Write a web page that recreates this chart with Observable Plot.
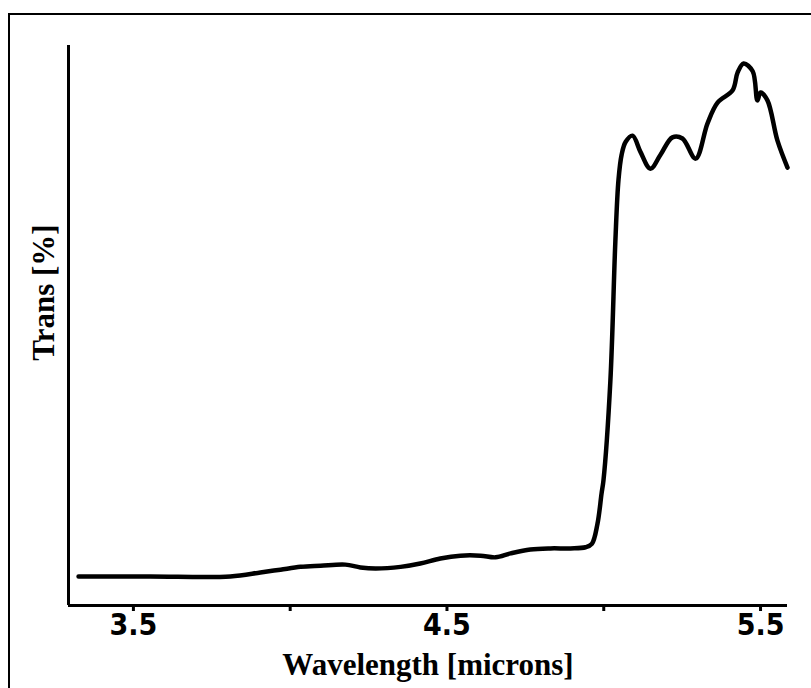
<!DOCTYPE html>
<html>
<head>
<meta charset="utf-8">
<script src="https://cdn.jsdelivr.net/npm/d3@7"></script>
<script src="https://cdn.jsdelivr.net/npm/@observablehq/plot@0.6"></script>
<style>
  html, body { margin: 0; padding: 0; background: #fff; overflow: hidden; }
  #wrap { position: relative; width: 811px; height: 688px; }
  #border { position: absolute; left: 8px; top: 13px; width: 830px; height: 720px; border: 2px solid #000; box-sizing: border-box; pointer-events: none; }
</style>
</head>
<body>
<div id="wrap"><div id="border"></div><div id="chart"></div></div>
<script>
// Wavelength in microns
const wavelength = [3.325, 3.554, 3.809, 3.905, 3.969, 4.033, 4.097, 4.176, 4.224, 4.272, 4.352, 4.415, 4.479, 4.543, 4.607, 4.655, 4.703, 4.766, 4.830, 4.894, 4.942, 4.962, 4.980, 4.993, 4.999, 5.021, 5.037, 5.047, 5.057, 5.070, 5.092, 5.117, 5.149, 5.181, 5.219, 5.251, 5.293, 5.331, 5.363, 5.411, 5.427, 5.446, 5.475, 5.490, 5.500, 5.522, 5.554, 5.586];
// Transmission (relative %)
const trans = [5.2, 5.2, 5.2, 5.9, 6.4, 6.9, 7.1, 7.3, 6.8, 6.6, 6.9, 7.5, 8.4, 8.9, 8.9, 8.6, 9.3, 10.0, 10.2, 10.2, 10.4, 11.0, 14.6, 20.0, 22.3, 40.0, 65.0, 76.0, 80.5, 82.8, 83.9, 81.0, 78.0, 80.5, 83.6, 83.4, 79.8, 86.1, 89.8, 92.0, 95.2, 96.8, 95.4, 90.2, 91.6, 90.2, 83.0, 78.2];
const xTicks = [3.5, 4.0, 4.5, 5.0, 5.5];
const xTickLabels = ["3.5", "", "4.5", "", "5.5"];

const data = wavelength.map((w, i) => ({w, t: trans[i]}));

const chart = Plot.plot({
  width: 811,
  height: 688,
  marginLeft: 68,
  marginRight: 24,
  marginTop: 45,
  marginBottom: 83,
  style: {background: "transparent", color: "#000"},
  x: {domain: [3.293, 5.586]},
  y: {domain: [0, 100]},
  marks: [
    Plot.axisX(xTicks, {
      tickSize: 6,
      strokeWidth: 3,
      tickPadding: 2,
      tickFormat: (d, i) => xTickLabels[i],
      fontSize: 30,
      fontWeight: "bold",
      fontFamily: "'Liberation Sans Narrow', 'DejaVu Sans Condensed', 'Liberation Sans', Arial, sans-serif",
      label: null
    }),
    Plot.axisY({ticks: [], label: null}),
    Plot.ruleY([0], {stroke: "#000", strokeWidth: 3}),
    Plot.ruleX([3.293], {stroke: "#000", strokeWidth: 3}),
    Plot.line(data, {x: "w", y: "t", stroke: "#000", strokeWidth: 4.5, curve: "catmull-rom", strokeLinejoin: "round", strokeLinecap: "round"}),
    Plot.text(["Wavelength [microns]"], {frameAnchor: "bottom", dy: 69, fontSize: 31, fontWeight: "bold", fontFamily: "'Liberation Serif', 'Times New Roman', serif", fill: "#000"}),
    Plot.text(["Trans [%]"], {frameAnchor: "left", textAnchor: "middle", dx: -24, dy: -33, rotate: -90, fontSize: 31, fontWeight: "bold", fontFamily: "'Liberation Serif', 'Times New Roman', serif", fill: "#000"})
  ]
});
document.getElementById("chart").appendChild(chart);
</script>
</body>
</html>
